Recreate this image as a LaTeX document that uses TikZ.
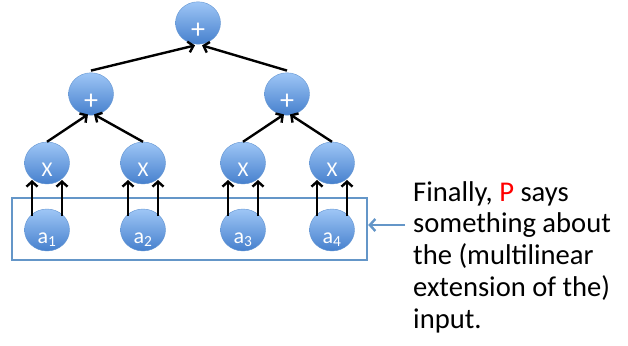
\documentclass[tikz,border=0pt]{standalone}
\usepackage{fontspec}
\setmainfont{Carlito}
\usetikzlibrary{arrows.meta,calc,shapes.geometric}
\definecolor{ballhi}{RGB}{158,198,246}
\definecolor{balllo}{RGB}{70,128,205}
\definecolor{ballrim}{RGB}{100,150,210}
\definecolor{frameblue}{RGB}{100,150,200}
\begin{document}
\begin{tikzpicture}[x=1pt,y=-1pt,
  ball/.style={shape=ellipse, minimum width=45, minimum height=42, inner sep=0,
    top color=ballhi, bottom color=balllo, draw=ballrim, line width=0.4pt,
    text=white, text height=27pt, text depth=0pt, font=\fontsize{21}{21}\selectfont},
  plus/.style={ball, font=\fontsize{28}{28}\selectfont, text height=30pt},
  leaf/.style={ball, font=\fontsize{22}{22}\selectfont},
  wire/.style={line width=2.4pt, -{Straight Barb[length=5pt,width=11pt]}},
  framebox/.style={draw=frameblue, line width=2.4pt, minimum width=355, minimum height=62, inner sep=0},
  pointer/.style={draw=frameblue, line width=2.4pt, -{Straight Barb[length=5.5pt,width=12pt]}},
  note/.style={anchor=north west, align=left, inner sep=0, font=\fontsize{28.6}{31.8}\selectfont}]
\useasboundingbox (0,0) rectangle (628,345);

% input frame
\node[framebox] (frame) at (189.5,229) {};

% circuit gates
\node[plus] (top) at (198,23) {+};
\node[plus] (p1) at (91,94) {+};
\node[plus] (p2) at (287,94) {+};
\node[ball] (x1) at (47,163) {X};
\node[ball] (x2) at (143,163) {X};
\node[ball] (x3) at (243,163) {X};
\node[ball] (x4) at (332,163) {X};
\node[leaf] (a1) at (47,230) {a\textsubscript{1}};
\node[leaf] (a2) at (143,230) {a\textsubscript{2}};
\node[leaf] (a3) at (243,230) {a\textsubscript{3}};
\node[leaf] (a4) at (332,230) {a\textsubscript{4}};

% inputs feed each multiplication gate twice
\foreach \i in {1,2,3,4}{
  \draw[wire] ($(a\i.center)+(-15,-14)$) -- ($(x\i.center)+(-15,17)$);
  \draw[wire] ($(a\i.center)+(15,-14)$) -- ($(x\i.center)+(15,17)$);
}

% products into the sums
\draw[wire] (x1.north) -- ($(p1.south)+(-3,-1)$);
\draw[wire] (x2.north) -- ($(p1.south)+(3,-1)$);
\draw[wire] (x3.north) -- ($(p2.south)+(-3,-1)$);
\draw[wire] (x4.north) -- ($(p2.south)+(3,-1)$);

% sums into the output
\draw[wire] ($(p1.north)+(0,-2)$) -- ($(top.south)+(-3,1)$);
\draw[wire] ($(p2.north)+(0,-2)$) -- ($(top.south)+(4,1)$);

% remark
\node[note] (remark) at (413,181) {Finally, \textcolor{red}{P} says\\something about\\the (multilinear\\extension of the)\\input.};
\coordinate (tail) at (405,225);
\draw[pointer] (tail) -- (tail -| frame.east);
\end{tikzpicture}
\end{document}
